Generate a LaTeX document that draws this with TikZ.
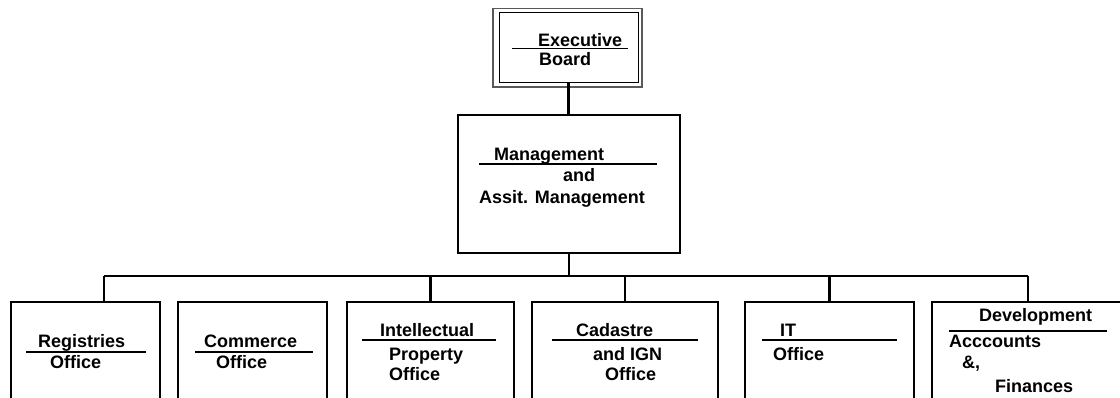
\documentclass[tikz,border=0pt]{standalone}
\usepackage{fontspec}
\setmainfont{Liberation Sans}
\begin{document}
\begin{tikzpicture}[x=1pt,y=-1pt,
  box/.style={draw=black,line width=2.2pt,inner sep=0pt,outer sep=0pt},
  link/.style={draw=black,line width=2.2pt},
  rule/.style={draw=black,line width=2.6pt},
  lbl/.style={anchor=base west,inner sep=0pt,font=\fontsize{18}{21}\selectfont\bfseries}]
\clip (0,0) rectangle (1120,398);
\fill[white] (0,0) rectangle (1120,398);

% Executive board: double frame
\draw[gray!70!black,line width=1.4pt] (493,8.5) rectangle (642,87);
\node[draw=black,line width=1pt,inner sep=0pt,minimum width=139pt,minimum height=70pt] (exec) at (568.5,48) {};
\node[lbl] (execA) at (538,47) {Executive};
\node[lbl] (execB) at (539,66) {Board};
\draw[black,line width=1pt] (512,49) -- (628,49);

% Management
\node[box,minimum width=222pt,minimum height=138pt] (mgmt) at (569,184) {};
\node[lbl] (mgA) at (494,161) {Management};
\node[lbl] (mgB) at (563,182) {and};
\node[lbl] (mgC) at (479,204) {Assit. Management};
\draw[rule] (479,164) -- (657,164);

% Departments
\node[box,minimum width=149pt,minimum height=140pt] (reg) at (85.5,372) {};
\node[box,minimum width=149pt,minimum height=140pt] (com) at (252.5,372) {};
\node[box,minimum width=167pt,minimum height=140pt] (int) at (430.5,372) {};
\node[box,minimum width=186pt,minimum height=140pt] (cad) at (625,372) {};
\node[box,minimum width=169pt,minimum height=140pt] (it) at (829.5,372) {};
\node[box,minimum width=192pt,minimum height=140pt] (dev) at (1028,372) {};

% Connectors
\draw[link] (exec.south) -- (exec.south |- mgmt.north);
\coordinate (busL) at ([xshift=18.5pt]reg.north |- 0,276);
\coordinate (busR) at (dev.north |- 0,276);
\draw[link] (mgmt.south) -- (mgmt.south |- busL);
\draw[link] (busL) -- (busR);
\draw[link] (busL) -- (busL |- reg.north);
\draw[link] (int.north |- busL) -- (int.north);
\draw[link] (cad.north |- busL) -- (cad.north);
\draw[link] (it.north |- busL) -- (it.north);
\draw[link] (busR) -- (dev.north);

% Registries
\node[lbl] (regA) at (38,348) {Registries};
\draw[rule] (26,352) -- (146,352);
\node[lbl] (regB) at (50,368) {Office};
% Commerce
\node[lbl] (comA) at (204,348) {Commerce};
\draw[rule] (195,352) -- (313,352);
\node[lbl] (comB) at (216,368) {Office};
% Intellectual property
\node[lbl] (intA) at (380,337) {Intellectual};
\draw[rule] (362,340) -- (496,340);
\node[lbl] (intB) at (389,360) {Property};
\node[lbl] (intC) at (389,380) {Office};
% Cadastre
\node[lbl] (cadA) at (576,337) {Cadastre};
\draw[rule] (552,340) -- (698,340);
\node[lbl] (cadB) at (593,360) {and IGN};
\node[lbl] (cadC) at (605,380) {Office};
% IT
\node[lbl] (itA) at (780,337) {IT};
\draw[rule] (762,340) -- (897,340);
\node[lbl] (itB) at (773,360) {Office};
% Development
\node[lbl] (devA) at (979,322) {Development};
\draw[rule] (949,331) -- (1107,331);
\node[lbl] (devB) at (949,348) {Acccounts};
\node[lbl] (devC) at (962,368) {\&,};
\node[lbl] (devD) at (995,392) {Finances};
\end{tikzpicture}
\end{document}
